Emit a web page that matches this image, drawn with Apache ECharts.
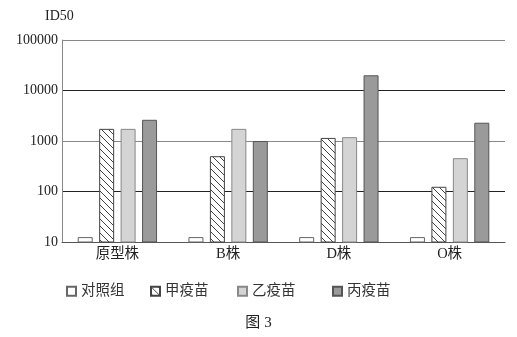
<!DOCTYPE html>
<html><head><meta charset="utf-8">
<script src="https://cdn.jsdelivr.net/npm/echarts@6/dist/echarts.min.js"></script>
<style>html,body{margin:0;padding:0;background:#fff}#c{width:517px;height:337px}</style>
</head><body><div id="c"></div>
<script>
const categories = ['原型株', 'B株', 'D株', 'O株'];
const seriesNames = ['对照组', '甲疫苗', '乙疫苗', '丙疫苗'];
const controlVals = [12.5, 12.5, 12.5, 12.5];
const jiaVals = [1740, 500, 1150, 124];
const yiVals = [1740, 1740, 1190, 457];
const bingVals = [2630, 1000, 20000, 2300];
const yTicks = [10, 100, 1000, 10000, 100000];
const yAxisTitle = 'ID50';
const figTitle = '图 3';

const FONT = "'Liberation Serif', 'Noto Sans CJK SC', serif";

function hatch() {
  const s = 7;
  const cv = document.createElement('canvas');
  cv.width = s; cv.height = s;
  const ctx = cv.getContext('2d');
  ctx.fillStyle = '#fff';
  ctx.fillRect(0, 0, s, s);
  ctx.strokeStyle = '#444';
  ctx.lineWidth = 1;
  ctx.beginPath();
  ctx.moveTo(-1, -1); ctx.lineTo(s + 1, s + 1);
  ctx.moveTo(-1, s - 1); ctx.lineTo(1, s + 1);
  ctx.moveTo(s - 1, -1); ctx.lineTo(s + 1, 1);
  ctx.stroke();
  return { image: cv, repeat: 'repeat' };
}

const styles = [
  { color: '#ffffff', borderColor: '#666', borderWidth: 1 },
  { color: hatch(), borderColor: '#444', borderWidth: 1 },
  { color: '#d4d4d4', borderColor: '#888', borderWidth: 1 },
  { color: '#9a9a9a', borderColor: '#555', borderWidth: 1 }
];
const values = [controlVals, jiaVals, yiVals, bingVals];
const legendLeft = [66, 150, 237, 332];

const chart = echarts.init(document.getElementById('c'), null, { renderer: 'canvas' });
chart.setOption({
  animation: false,
  backgroundColor: '#fff',
  textStyle: { fontFamily: FONT },
  title: [
    { text: yAxisTitle, left: 45, top: 9, padding: 0, textStyle: { fontFamily: FONT, fontSize: 14, fontWeight: 'normal', color: '#222' } },
    { text: figTitle, left: 'center', top: 316, padding: 0, textStyle: { fontFamily: FONT, fontSize: 15, fontWeight: 'normal', color: '#222' } }
  ],
  legend: seriesNames.map((n, i) => ({
    data: [n], left: legendLeft[i], top: 284, padding: 0, itemWidth: 9, itemHeight: 9, itemGap: 0,
    icon: 'rect',
    textStyle: { fontFamily: FONT, fontSize: 14.5, color: '#333' }
  })),
  grid: { left: 62, right: 12, top: 40, bottom: 95, containLabel: false },
  xAxis: {
    type: 'category', data: categories,
    axisLine: { lineStyle: { color: '#555', width: 1 } },
    axisTick: { show: false },
    axisLabel: { fontFamily: FONT, fontSize: 14.5, color: '#222', margin: 5 }
  },
  yAxis: {
    type: 'log', logBase: 10, min: yTicks[0], max: yTicks[yTicks.length - 1],
    axisLine: { show: true, lineStyle: { color: '#888', width: 1 } },
    axisTick: { show: false },
    splitLine: { show: true, lineStyle: { color: ['#888', '#222'], width: 1 } },
    axisLabel: { fontFamily: FONT, fontSize: 14, color: '#222', margin: 4, formatter: v => String(Math.round(v)) }
  },
  series: seriesNames.map((n, i) => ({
    name: n, type: 'bar', data: values[i], barWidth: 15, barGap: '43%',
    itemStyle: styles[i]
  }))
});
</script></body></html>
